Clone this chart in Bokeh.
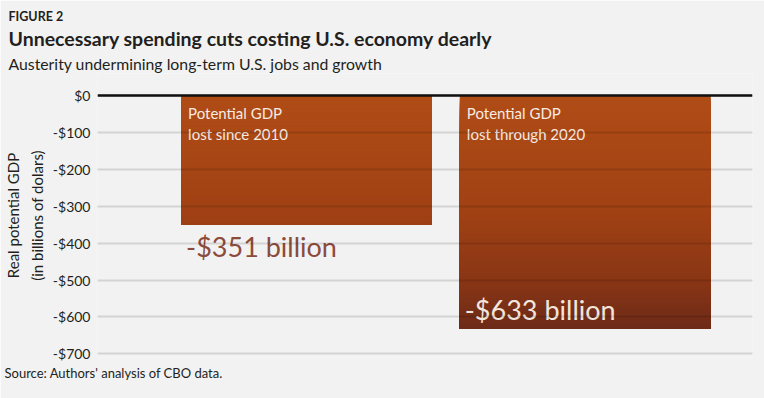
import numpy as np
from bokeh.plotting import figure
from bokeh.models import ColumnDataSource, Range1d, FixedTicker, Span, Title
from bokeh.core.properties import value
from bokeh.embed import file_html
from bokeh.resources import INLINE

# ---- data ----
categories = ["Lost since 2010", "Lost through 2020"]
note_line1 = ["Potential GDP", "Potential GDP"]
note_line2 = ["lost since 2010", "lost through 2020"]
gdp_lost = [-351, -633]
value_labels = ["-$351 billion", "-$633 billion"]
y_ticks = [0, -100, -200, -300, -400, -500, -600, -700]
y_tick_labels = ["$0", "-$100", "-$200", "-$300", "-$400", "-$500", "-$600", "-$700"]

# ---- styles ----
FONT = "Lato"
W, H = 764, 398
LEFT, RIGHT, TOP, BOTTOM = 97, 12, 73, 41
BG = "#f2f2f2"
BAR_HALF = 0.45
INK = "#231f20"

p = figure(width=W, height=H, output_backend="svg", toolbar_location=None,
           x_range=Range1d(-0.25, 2.1), y_range=Range1d(-710, 59.6),
           x_axis_location=None, title_location=None,
           min_border_left=LEFT, min_border_right=RIGHT,
           min_border_top=TOP, min_border_bottom=BOTTOM)
p.background_fill_color = BG
p.border_fill_color = BG
p.outline_line_color = None
p.xgrid.visible = False

ax = p.yaxis[0]
ax.ticker = FixedTicker(ticks=y_ticks)
ax.major_label_overrides = {t: l for t, l in zip(y_ticks, y_tick_labels)}
ax.axis_line_color = None
ax.major_tick_line_color = None
ax.minor_tick_line_color = None
ax.major_tick_out = 0
ax.major_tick_in = 0
ax.major_label_standoff = 7
ax.major_label_text_font = FONT
ax.major_label_text_font_size = "14px"
ax.major_label_text_color = INK
ax.axis_label = "Real potential GDP\n(in billions of dolars)"
ax.axis_label_text_font = FONT
ax.axis_label_text_font_size = "15px"
ax.axis_label_text_font_style = "normal"
ax.axis_label_text_color = INK
ax.axis_label_text_line_height = 1.3
ax.axis_label_standoff = 4

p.ygrid.ticker = FixedTicker(ticks=y_ticks)
p.ygrid.level = "overlay"
p.ygrid.grid_line_color = "black"
p.ygrid.grid_line_alpha = 0.12
p.ygrid.grid_line_width = 2

# gradient bars: nested strips, each running from its top edge down to the bar end
xs = np.arange(len(categories)) + 0.5
max_abs = max(abs(v) for v in gdp_lost)
stops_t = [0.0, 0.5, 0.8, 1.0]
stops_c = np.array([[176, 76, 22], [160, 65, 20], [136, 53, 21], [108, 42, 24]])

def grad_color(t):
    rgb = [np.interp(t, stops_t, stops_c[:, k]) for k in range(3)]
    return "#%02x%02x%02x" % tuple(int(round(c)) for c in rgb)

n = 100
L, R, T, B, C = [], [], [], [], []
for x, v in zip(xs, gdp_lost):
    edges = np.linspace(0, v, n + 1)
    for a in edges[:-1]:
        L.append(x - BAR_HALF)
        R.append(x + BAR_HALF)
        T.append(a)
        B.append(v)
        C.append(grad_color(-a / max_abs))
p.quad(left=L, right=R, top=T, bottom=B, fill_color=C, line_color=None)

# texts inside / under bars
src = ColumnDataSource(dict(x=xs - BAR_HALF, y=[0] * len(xs), l1=note_line1, l2=note_line2,
                            vy=gdp_lost, vl=value_labels,
                            voff=[21.5, -20], vcol=["#8c4b3b", "#f3e6de"]))
for col, off in (("l1", 18.0), ("l2", 39.0)):
    p.text(x="x", y="y", text=col, source=src, x_offset=7, y_offset=off,
           text_font=value(FONT), text_font_size="15px", text_color="#f7ebe3",
           text_baseline="alphabetic", text_align="left")
p.text(x="x", y="vy", text="vl", source=src, x_offset=5, y_offset="voff",
       text_font=value(FONT), text_font_size="27px", text_color="vcol",
       text_baseline="alphabetic", text_align="left")

p.add_layout(Span(location=0, dimension="width", line_color="#111111", line_width=2.5, level="overlay"))

# titles (first added 'above' sits closest to the frame)
def ttl(text, size, bold, standoff, where, x=8):
    t = Title(text=text, align="left", offset=-(LEFT - x), standoff=standoff,
              text_font=FONT, text_font_size=size, text_color=INK,
              text_font_style="bold" if bold else "normal")
    p.add_layout(t, where)

ttl("Austerity undermining long-term U.S. jobs and growth", "15.8px", False, 1.8, "above")
ttl("Unnecessary spending cuts costing U.S. economy dearly", "19.5px", True, 2.0, "above")
ttl("FIGURE 2", "12.5px", True, 0, "above")
ttl("Source: Authors' analysis of CBO data.", "13px", False, 10, "below", x=4)

open("out.html", "w").write(file_html(p, INLINE))
